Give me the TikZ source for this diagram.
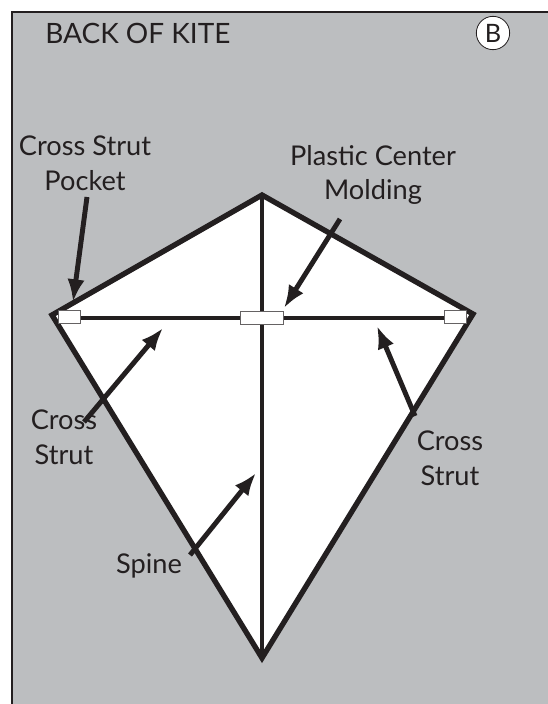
\documentclass[tikz,border=0pt]{standalone}
\usepackage{fontspec}
\setmainfont{Lato}
\usetikzlibrary{positioning, arrows.meta, calc}
\definecolor{panelgray}{HTML}{BCBEC0}
\definecolor{inkblack}{HTML}{231F20}

\begin{document}
\begin{tikzpicture}[
    x=0.75pt, y=-0.75pt,
    label/.style={text=inkblack, align=center, inner sep=0pt, font=\fontsize{20.4}{26}\selectfont},
    kite/.style={draw=inkblack, line width=4pt, line join=miter, fill=white},
    strut/.style={draw=inkblack, line width=2.7pt},
    pocket/.style={draw=inkblack!70, line width=0.7pt, fill=white, inner sep=0pt},
    pointer/.style={-{Latex[length=17pt, width=13pt]}, draw=inkblack, fill=inkblack, line width=3.7pt}
]
    \useasboundingbox (0,0) rectangle (548,704);
    \node[draw=inkblack, line width=1.2pt, fill=panelgray, minimum width=540pt, minimum height=700pt, anchor=north west, inner sep=0pt] (panel) at (11,11) {};

    \coordinate (top) at (262,195);
    \coordinate (left) at (52,315);
    \coordinate (right) at (473,314);
    \coordinate (bottom) at (262,658);
    \draw[kite] (top) -- (right) -- (bottom) -- (left) -- cycle;

    \draw[strut] (left) ++(8,3) coordinate (strutl) -- ($(right)+(-8,4)$) coordinate (strutr);
    \draw[strut] (top) -- (bottom);

    \node[pocket, minimum width=16.5pt, minimum height=9.5pt] (pocketl) at (69,317) {};
    \node[pocket, minimum width=16.5pt, minimum height=9.5pt] (pocketr) at (455,317) {};
    \node[pocket, minimum width=32pt, minimum height=9.5pt] (molding) at (262,318) {};

    \node[label, anchor=west, font=\fontsize{21}{26}\selectfont] (title) at (45,33) {BACK OF KITE};
    \node[draw=inkblack, line width=0.6pt, fill=white, circle, minimum size=25pt, inner sep=0pt, text=inkblack, font=\fontsize{19}{22}\selectfont] (badge) at (493,33) {B};

    \node[label] (pocketlabel) at (85,163) {Cross Strut\\Pocket};
    \node[label] (moldinglabel) at (373,175) {Plastic Center\\Molding};
    \node[label] (strutlabell) at (64,437) {Cross\\Strut};
    \node[label] (strutlabelr) at (450,458) {Cross\\Strut};
    \node[label] (spinelabel) at (149,566) {Spine};

    \coordinate (pocketfrom) at (87,197);
    \coordinate (pocketto) at (73,302);
    \coordinate (moldingfrom) at (340,219);
    \coordinate (moldingto) at (284,308);
    \coordinate (strutlfrom) at (84,422);
    \coordinate (strutlto) at (163,328);
    \coordinate (strutrfrom) at (415,416);
    \coordinate (strutrto) at (377,326);
    \coordinate (spinefrom) at (190,555);
    \coordinate (spineto) at (256,473);

    \draw[pointer] (pocketfrom) -- (pocketto);
    \draw[pointer] (moldingfrom) -- (moldingto);
    \draw[pointer] (strutlfrom) -- (strutlto);
    \draw[pointer] (strutrfrom) -- (strutrto);
    \draw[pointer] (spinefrom) -- (spineto);
\end{tikzpicture}
\end{document}
